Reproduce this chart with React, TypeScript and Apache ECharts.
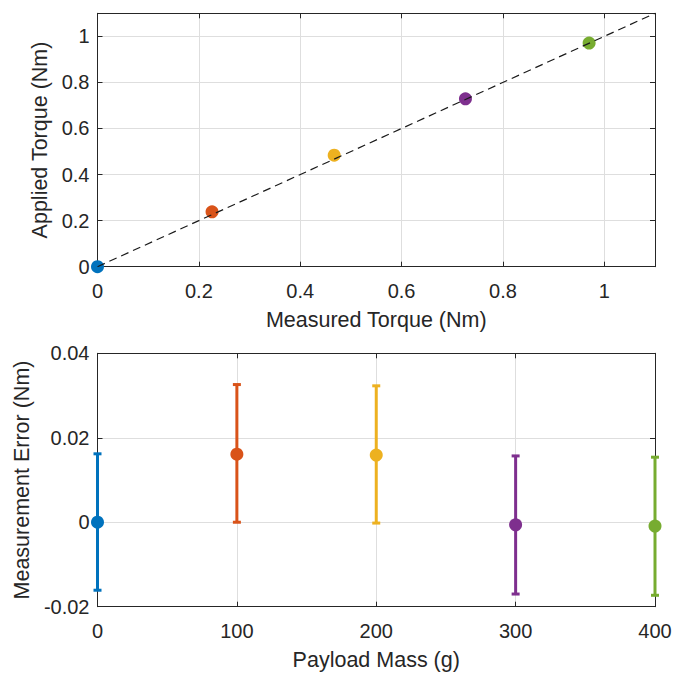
import React, { useEffect, useRef } from "react";
import * as echarts from "echarts";

// Top plot: measured vs applied torque
const measuredTorque = [0, 0.226, 0.467, 0.726, 0.97];
const appliedTorque = [0, 0.238, 0.484, 0.729, 0.971];
const identityLine = [
  [0, 0],
  [1.1, 1.1],
];

// Bottom plot: measurement error vs payload mass
const payloadMass = [0, 100, 200, 300, 400];
const errorMean = [0, 0.0161, 0.0159, -0.0006, -0.0009];
const errorLow = [-0.0161, 0.0, -0.0002, -0.017, -0.0173];
const errorHigh = [0.0162, 0.0326, 0.0323, 0.0157, 0.0154];

const colors = ["#0072BD", "#D95319", "#EDB120", "#7E2F8E", "#77AC30"];

const FONT = "'Liberation Sans', Arial, Helvetica, sans-serif";
const TXT = "#262626";
const AX = "#262626";
const GRIDC = "#dedede";

export default function App() {
  const ref = useRef<HTMLDivElement>(null);
  useEffect(() => {
    if (!ref.current) return;
    const chart = echarts.init(ref.current, undefined, { renderer: "svg" });

    const axisLine = { show: true, onZero: false, lineStyle: { color: AX, width: 1 } };
    const tick = { show: true, inside: true, length: 5, lineStyle: { color: AX, width: 1 } };
    const label = { color: TXT, fontSize: 20, fontFamily: FONT };
    const nameStyle = { color: TXT, fontSize: 21.5, fontFamily: FONT };

    const mainX = (gi: number, min: number, max: number, interval: number, name: string, showMax: boolean) => ({
      type: "value",
      gridIndex: gi,
      min,
      max,
      interval,
      position: "bottom",
      name,
      nameLocation: "middle",
      nameGap: 42,
      nameTextStyle: nameStyle,
      axisLine,
      axisTick: tick,
      axisLabel: { ...label, margin: 14, showMaxLabel: showMax },
      splitLine: { show: true, lineStyle: { color: GRIDC, width: 1 } },
    });
    const secX = (gi: number, min: number, max: number, interval: number) => ({
      type: "value",
      gridIndex: gi,
      min,
      max,
      interval,
      position: "top",
      axisLine,
      axisTick: tick,
      axisLabel: { show: false },
      splitLine: { show: false },
    });
    const mainY = (gi: number, min: number, max: number, interval: number, name: string, gap: number, showMax: boolean) => ({
      type: "value",
      gridIndex: gi,
      min,
      max,
      interval,
      position: "left",
      name,
      nameLocation: "middle",
      nameGap: gap,
      nameTextStyle: nameStyle,
      axisLine,
      axisTick: tick,
      axisLabel: { ...label, margin: 8, showMaxLabel: showMax },
      splitLine: { show: true, lineStyle: { color: GRIDC, width: 1 } },
    });
    const secY = (gi: number, min: number, max: number, interval: number) => ({
      type: "value",
      gridIndex: gi,
      min,
      max,
      interval,
      position: "right",
      axisLine,
      axisTick: tick,
      axisLabel: { show: false },
      splitLine: { show: false },
    });

    const errData = payloadMass.map((m, i) => [m, errorLow[i], errorHigh[i], i]);

    chart.setOption({
      animation: false,
      backgroundColor: "#ffffff",
      textStyle: { fontFamily: FONT },
      grid: [
        { left: 97.5, top: 13.3, width: 557.5, height: 253.4, containLabel: false },
        { left: 97.5, top: 353.3, width: 557.5, height: 253.4, containLabel: false },
      ],
      xAxis: [
        mainX(0, 0, 1.1, 0.2, "Measured Torque (Nm)", false),
        secX(0, 0, 1.1, 0.2),
        mainX(1, 0, 400, 100, "Payload Mass (g)", true),
        secX(1, 0, 400, 100),
      ],
      yAxis: [
        mainY(0, 0, 1.1, 0.2, "Applied Torque (Nm)", 42, false),
        secY(0, 0, 1.1, 0.2),
        mainY(1, -0.02, 0.04, 0.02, "Measurement Error (Nm)", 63, true),
        secY(1, -0.02, 0.04, 0.02),
      ],
      series: [
        {
          type: "scatter",
          xAxisIndex: 0,
          yAxisIndex: 0,
          symbol: "circle",
          symbolSize: 13,
          clip: false,
          z: 2,
          data: measuredTorque.map((x, i) => ({
            value: [x, appliedTorque[i]],
            itemStyle: { color: colors[i], opacity: 1 },
          })),
        },
        {
          type: "line",
          xAxisIndex: 0,
          yAxisIndex: 0,
          data: identityLine,
          showSymbol: false,
          symbol: "none",
          z: 3,
          lineStyle: { color: "#1a1a1a", width: 1.2, type: [8, 5] },
        },
        {
          type: "custom",
          xAxisIndex: 2,
          yAxisIndex: 2,
          z: 2,
          clip: false,
          data: errData,
          renderItem: (params: any, api: any) => {
            const x = api.value(0);
            const lo = api.value(1);
            const hi = api.value(2);
            const idx = api.value(3);
            const pLo = api.coord([x, lo]);
            const pHi = api.coord([x, hi]);
            const c = colors[idx];
            const hw = 4;
            const style = { stroke: c, lineWidth: 3 };
            return {
              type: "group",
              children: [
                { type: "line", shape: { x1: pLo[0], y1: pLo[1], x2: pHi[0], y2: pHi[1] }, style },
                { type: "line", shape: { x1: pHi[0] - hw, y1: pHi[1], x2: pHi[0] + hw, y2: pHi[1] }, style },
                { type: "line", shape: { x1: pLo[0] - hw, y1: pLo[1], x2: pLo[0] + hw, y2: pLo[1] }, style },
              ],
            };
          },
        },
        {
          type: "scatter",
          xAxisIndex: 2,
          yAxisIndex: 2,
          symbol: "circle",
          symbolSize: 13,
          clip: false,
          z: 3,
          data: payloadMass.map((m, i) => ({
            value: [m, errorMean[i]],
            itemStyle: { color: colors[i], opacity: 1 },
          })),
        },
      ],
    });
    return () => chart.dispose();
  }, []);

  return (
    <div
      ref={ref}
      style={{ position: "fixed", left: 0, top: 0, width: 676, height: 677, background: "#fff" }}
    />
  );
}
